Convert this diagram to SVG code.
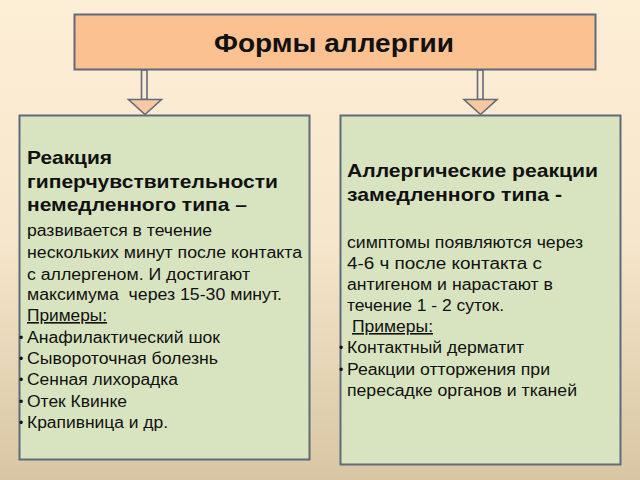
<svg xmlns="http://www.w3.org/2000/svg" width="640" height="480" viewBox="0 0 640 480">
<defs>
<linearGradient id="bg" x1="0" y1="0" x2="0" y2="1">
<stop offset="0" stop-color="#fdeed6"/>
<stop offset="0.5" stop-color="#f6e6cb"/>
<stop offset="1" stop-color="#d8c6a3"/>
</linearGradient>
<style>
.box{stroke:#5f6b7a;stroke-width:2}
.title{fill:#fbc190}
.green{fill:#d8e4bf}
.arrow{fill:#fac8a0;stroke:#5f6b7a;stroke-width:1.6}
.shaft{fill:#fbe9d3;stroke:#5f6b7a;stroke-width:1.6}
text{font-family:"Liberation Sans",Arial,sans-serif;fill:#111}
.h{font-size:19px;font-weight:bold}
.b{font-size:16px}
.d{font-size:12px}
.t{font-size:25px;font-weight:bold}
</style>
</defs>
<rect width="640" height="480" fill="url(#bg)"/>
<g id="connectors">
<rect class="shaft" x="141.5" y="70" width="5.5" height="29.5"/>
<polygon class="arrow" points="128.5,99.5 161.5,99.5 145,114.5"/>
<rect class="shaft" x="477.5" y="70" width="5.5" height="29.5"/>
<polygon class="arrow" points="464,99.5 497,99.5 480.5,114.5"/>
</g>
<g id="title">
<rect class="box title" x="74.5" y="14.5" width="521" height="55"/>
<text class="t" x="214" y="52" textLength="240" lengthAdjust="spacingAndGlyphs">Формы аллергии</text>
</g>
<g id="left">
<rect class="box green" x="19.5" y="115.5" width="290" height="344"/>
<text class="h" x="27" y="164" textLength="85" lengthAdjust="spacingAndGlyphs">Реакция</text>
<text class="h" x="27" y="188" textLength="251" lengthAdjust="spacingAndGlyphs">гиперчувствительности</text>
<text class="h" x="27" y="211" textLength="220" lengthAdjust="spacingAndGlyphs">немедленного типа –</text>
<text class="b" x="27" y="236" textLength="185" lengthAdjust="spacingAndGlyphs">развивается в течение</text>
<text class="b" x="27" y="258" textLength="275" lengthAdjust="spacingAndGlyphs">нескольких минут после контакта</text>
<text class="b" x="27" y="280" textLength="223" lengthAdjust="spacingAndGlyphs">с аллергеном. И достигают</text>
<text class="b" x="27" y="300" textLength="255" lengthAdjust="spacingAndGlyphs" xml:space="preserve">максимума  через 15-30 минут.</text>
<text class="b" x="27" y="321" textLength="80" lengthAdjust="spacingAndGlyphs" text-decoration="underline">Примеры:</text>
<text class="d" x="19" y="342">•</text>
<text class="b" x="27" y="343" textLength="193" lengthAdjust="spacingAndGlyphs">Анафилактический шок</text>
<text class="d" x="19" y="363">•</text>
<text class="b" x="27" y="364" textLength="191" lengthAdjust="spacingAndGlyphs">Сывороточная болезнь</text>
<text class="d" x="19" y="384">•</text>
<text class="b" x="27" y="385" textLength="151" lengthAdjust="spacingAndGlyphs">Сенная лихорадка</text>
<text class="d" x="19" y="406">•</text>
<text class="b" x="27" y="407" textLength="100" lengthAdjust="spacingAndGlyphs">Отек Квинке</text>
<text class="d" x="19" y="427">•</text>
<text class="b" x="27" y="428" textLength="141" lengthAdjust="spacingAndGlyphs">Крапивница и др.</text>
</g>
<g id="right">
<rect class="box green" x="340.5" y="115.5" width="280" height="349"/>
<text class="h" x="347" y="177" textLength="251" lengthAdjust="spacingAndGlyphs">Аллергические реакции</text>
<text class="h" x="347" y="201" textLength="215" lengthAdjust="spacingAndGlyphs">замедленного типа -</text>
<text class="b" x="347" y="248" textLength="236" lengthAdjust="spacingAndGlyphs">симптомы появляются через</text>
<text class="b" x="347" y="269" textLength="195" lengthAdjust="spacingAndGlyphs">4-6 ч после контакта с</text>
<text class="b" x="347" y="290" textLength="206" lengthAdjust="spacingAndGlyphs">антигеном и нарастают в</text>
<text class="b" x="347" y="311" textLength="157" lengthAdjust="spacingAndGlyphs">течение 1 - 2 суток.</text>
<text class="b" x="352" y="332" textLength="81" lengthAdjust="spacingAndGlyphs" text-decoration="underline">Примеры:</text>
<text class="d" x="339" y="352">•</text>
<text class="b" x="347" y="353" textLength="177" lengthAdjust="spacingAndGlyphs">Контактный дерматит</text>
<text class="d" x="339" y="374">•</text>
<text class="b" x="347" y="375" textLength="203" lengthAdjust="spacingAndGlyphs">Реакции отторжения при</text>
<text class="b" x="347" y="396" textLength="230" lengthAdjust="spacingAndGlyphs">пересадке органов и тканей</text>
</g>
</svg>
